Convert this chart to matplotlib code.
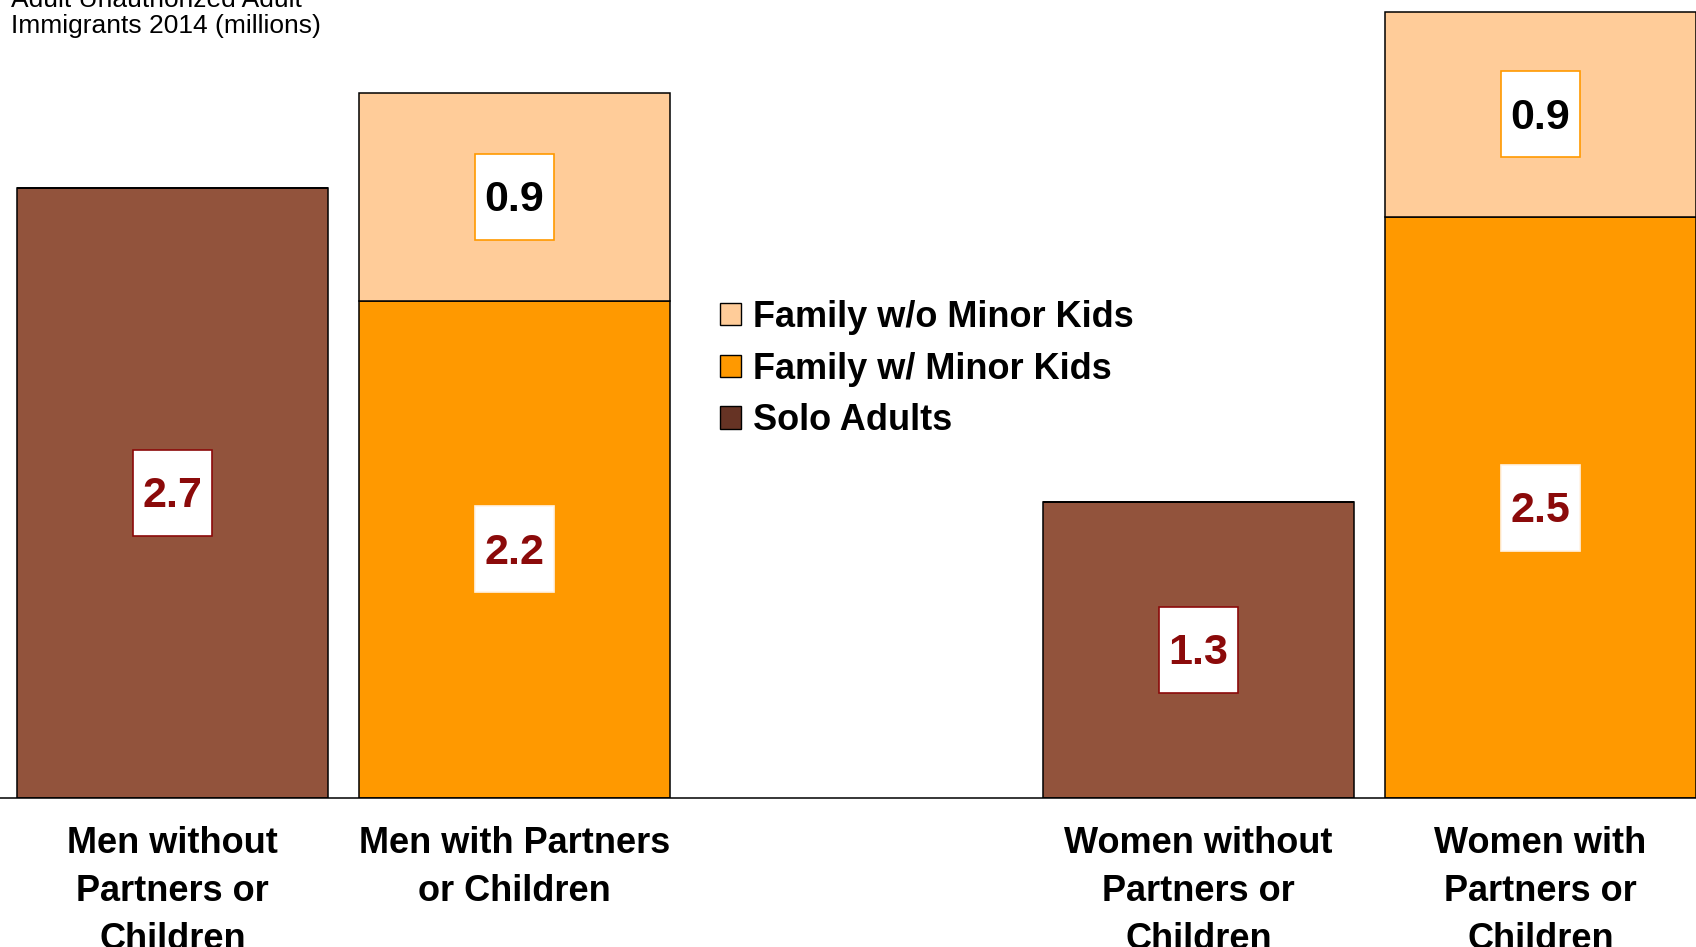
import matplotlib.pyplot as plt
from matplotlib.patches import Rectangle, Patch

plt.rcParams['font.family'] = ['Liberation Sans', 'DejaVu Sans']

# data
categories = ["Men without\nPartners or\nChildren", "Men with Partners\nor Children",
              "Women without\nPartners or\nChildren", "Women with\nPartners or\nChildren"]
positions = [0, 1, 3, 4]
solo = [2.7, 0, 1.31, 0]
with_kids = [0, 2.2, 0, 2.57]
without_kids = [0, 0.92, 0, 0.91]
solo_labels = ["2.7", "", "1.3", ""]
with_kids_labels = ["", "2.2", "", "2.5"]
without_kids_labels = ["", "0.9", "", "0.9"]

brown = "#92533C"
orange = "#FF9900"
peach = "#FFCC99"
dark_red = "#8B0A0A"

fig = plt.figure(figsize=(16.96, 9.47), dpi=100)
ax = fig.add_axes([0.0, 0.1573, 1.0, 0.8427])

bw = 0.909
ax.bar(positions, solo, width=bw, color=brown, edgecolor="black", linewidth=1.1)
ax.bar(positions, with_kids, width=bw, bottom=solo, color=orange, edgecolor="black", linewidth=1.1)
bottoms = [a + b for a, b in zip(solo, with_kids)]
ax.bar(positions, without_kids, width=bw, bottom=bottoms, color=peach, edgecolor="black", linewidth=1.1)

ax.set_xlim(-0.504, 4.455)
ax.set_ylim(0, 3.531)

# value boxes
box_w, box_h = 0.231, 0.38


def value_box(x, yc, text, edge, tcolor):
    ax.add_patch(Rectangle((x - box_w / 2, yc - box_h / 2), box_w, box_h,
                           facecolor="white", edgecolor=edge, linewidth=1.2, zorder=3))
    ax.annotate(text, (x, yc), xytext=(0, -2.3), textcoords="offset points",
                ha="center", va="center", fontsize=31, fontweight="bold",
                color=tcolor, zorder=4)


for i, x in enumerate(positions):
    if solo_labels[i]:
        value_box(x, solo[i] / 2, solo_labels[i], dark_red, dark_red)
    if with_kids_labels[i]:
        value_box(x, solo[i] + with_kids[i] / 2, with_kids_labels[i], "#FFF4E6", dark_red)
    if without_kids_labels[i]:
        value_box(x, bottoms[i] + without_kids[i] / 2, without_kids_labels[i], orange, "black")

for s in ["top", "left", "right"]:
    ax.spines[s].set_visible(False)
ax.spines["bottom"].set_linewidth(1.1)
ax.set_yticks([])
ax.set_xticks(positions)
ax.set_xticklabels(categories, fontsize=26, fontweight="bold", linespacing=1.49)
ax.tick_params(axis="x", length=0, pad=20)

handles = [Patch(facecolor=peach, edgecolor="black"),
           Patch(facecolor=orange, edgecolor="black"),
           Patch(facecolor="#663324", edgecolor="black")]
fig.legend(handles, ["Family w/o Minor Kids", "Family w/ Minor Kids", "Solo Adults"],
           loc="center left", bbox_to_anchor=(720 / 1696, 1 - 369 / 947),
           bbox_transform=fig.transFigure, frameon=False,
           prop={"weight": "bold", "size": 26},
           handlelength=0.58, handleheight=0.58, handletextpad=0.33,
           labelspacing=0.47, borderpad=0, borderaxespad=0)

fig.text(0.0065, 1 - 38 / 947, "Adult Unauthorized Adult\nImmigrants 2014 (millions)",
         fontsize=19, ha="left", va="bottom", linespacing=1.1)

fig.savefig("out.png", dpi=100)
